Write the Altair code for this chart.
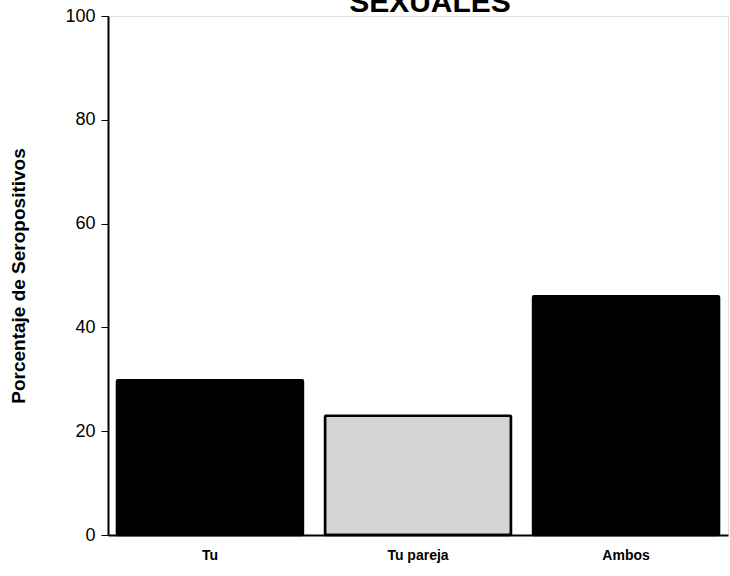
import altair as alt
import pandas as pd

categories = ["Tu", "Tu pareja", "Ambos"]
values = [29.8, 23.0, 46.0]
fills = ["#000000", "#d4d4d4", "#000000"]

df = pd.DataFrame({"cat": categories, "val": values, "fill": fills})

font = "Liberation Sans"

x = alt.X("cat:N", sort=categories,
          scale=alt.Scale(paddingOuter=0.043, paddingInner=0.106),
          axis=alt.Axis(title=None, labelAngle=0, ticks=False, domainColor="black",
                        domainWidth=2, labelFontSize=14, labelFont=font,
                        labelFontWeight="bold", labelColor="black", labelPadding=13))
y = alt.Y("val:Q", scale=alt.Scale(domain=[0, 100]),
          axis=alt.Axis(values=[0, 20, 40, 60, 80, 100], title="Porcentaje de Seropositivos",
                        titleFont=font, titleFontSize=19, titleFontWeight="bold",
                        titleColor="black", titlePadding=36, grid=False,
                        domainColor="black", domainWidth=2, tickColor="black",
                        tickSize=7, labelFontSize=18, labelFont=font,
                        labelColor="black", labelPadding=6))

bars = alt.Chart(df).mark_bar(stroke="black", strokeWidth=2.5, cornerRadius=1).encode(
    x=x, y=y, fill=alt.Fill("fill:N", scale=None)
)

title = alt.Chart(pd.DataFrame({"t": ["SEXUALES"]})).mark_text(
    font=font, fontSize=30, fontWeight="bold", color="black", baseline="alphabetic"
).encode(text="t:N", x=alt.value(322), y=alt.value(-4))

chart = alt.layer(bars, title).properties(
    width=620, height=519,
    padding={"left": 108, "top": 16, "right": 2, "bottom": 41},
    autosize=alt.AutoSizeParams(type="none"),
).configure_view(stroke=None).configure(background="white")

chart.save("out.html", embed_options={"renderer": "svg", "actions": False})
